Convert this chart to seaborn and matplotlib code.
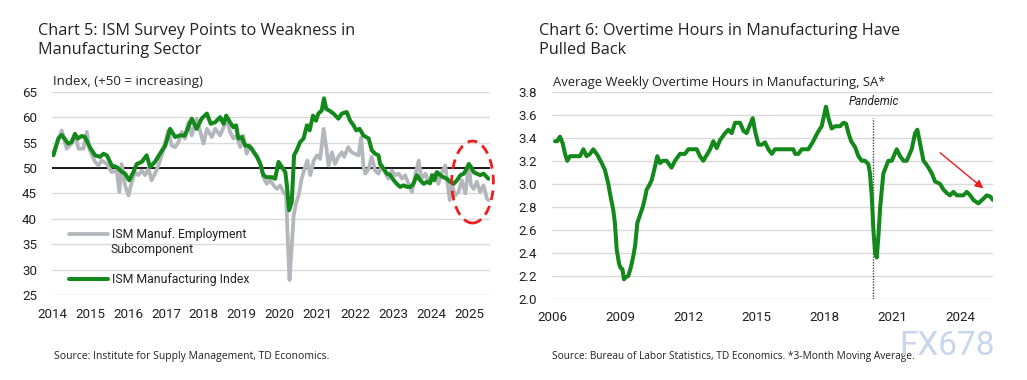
import matplotlib
matplotlib.use("Agg")
import matplotlib.pyplot as plt
import seaborn as sns
from matplotlib.patches import Ellipse

# ---- Chart 5 data (decimal years) ----
ism_x = [2014.03, 2014.16, 2014.25, 2014.42, 2014.51, 2014.60, 2014.67, 2014.78, 2014.86, 2014.99,
         2015.13, 2015.26, 2015.35, 2015.44, 2015.57, 2015.70, 2015.83, 2015.92, 2016.03, 2016.14,
         2016.23, 2016.36, 2016.49, 2016.58, 2016.71, 2016.84, 2016.98, 2017.11, 2017.24, 2017.37,
         2017.50, 2017.68, 2017.81, 2017.94, 2018.08, 2018.18, 2018.30, 2018.43, 2018.52, 2018.59,
         2018.69, 2018.78, 2018.85, 2018.91, 2019.00, 2019.09, 2019.17, 2019.26, 2019.40, 2019.49,
         2019.57, 2019.66, 2019.80, 2019.88, 2019.97, 2020.06, 2020.15, 2020.19, 2020.25, 2020.32,
         2020.38, 2020.45, 2020.54, 2020.63, 2020.72, 2020.79, 2020.88, 2020.96, 2021.02, 2021.11,
         2021.17, 2021.23, 2021.31, 2021.42, 2021.55, 2021.64, 2021.77, 2021.86, 2021.95, 2022.02,
         2022.11, 2022.21, 2022.35, 2022.43, 2022.52, 2022.61, 2022.65, 2022.74, 2022.83, 2022.92,
         2023.01, 2023.09, 2023.18, 2023.27, 2023.36, 2023.45, 2023.53, 2023.62, 2023.71, 2023.80,
         2023.89, 2023.97, 2024.02, 2024.08, 2024.15, 2024.24, 2024.32, 2024.41, 2024.50, 2024.59,
         2024.68, 2024.77, 2024.86, 2024.94, 2024.99, 2025.05, 2025.12, 2025.20, 2025.29, 2025.38,
         2025.47, 2025.51]
ism_pmi = [52.5, 55.8, 56.5, 54.8, 55.1, 56.7, 55.8, 56.3, 56.1, 54.1,
           52.5, 52.2, 52.8, 52.5, 50.5, 50.2, 49.3, 48.9, 47.6, 49.2,
           50.8, 51.2, 52.5, 50.2, 51.2, 52.8, 54.4, 57.7, 56.1, 56.4,
           56.4, 59.7, 57.7, 59.7, 60.7, 58.7, 59.0, 60.0, 58.7, 60.3,
           59.0, 58.0, 58.4, 55.8, 56.1, 54.4, 54.4, 53.8, 52.2, 50.8,
           48.6, 48.2, 48.2, 47.9, 51.2, 50.2, 49.2, 46.6, 41.7, 43.3,
           52.5, 53.5, 55.1, 55.8, 58.4, 57.4, 60.3, 59.3, 60.7, 61.3,
           63.7, 61.6, 61.3, 60.7, 59.7, 60.7, 61.0, 59.3, 58.4, 57.4,
           57.7, 56.4, 55.8, 53.5, 52.8, 52.5, 50.8, 49.9, 48.9, 48.6,
           47.6, 46.9, 46.3, 46.6, 46.3, 46.3, 46.9, 48.6, 47.6, 46.9,
           47.3, 47.0, 48.6, 47.6, 49.2, 48.6, 48.2, 47.9, 47.3, 46.9,
           47.6, 48.6, 48.9, 49.9, 50.8, 50.2, 49.2, 48.9, 48.6, 48.9,
           48.2, 47.9]

emp_x = [2014.03, 2014.12, 2014.25, 2014.38, 2014.51, 2014.60, 2014.69, 2014.82, 2014.91, 2014.99,
         2015.13, 2015.22, 2015.30, 2015.44, 2015.57, 2015.70, 2015.77, 2015.83, 2015.92, 2016.01,
         2016.10, 2016.18, 2016.27, 2016.36, 2016.45, 2016.54, 2016.62, 2016.71, 2016.80, 2016.93,
         2017.06, 2017.15, 2017.24, 2017.33, 2017.42, 2017.50, 2017.59, 2017.68, 2017.81, 2017.99,
         2018.08, 2018.21, 2018.30, 2018.43, 2018.52, 2018.61, 2018.69, 2018.78, 2018.87, 2018.96,
         2019.04, 2019.13, 2019.22, 2019.31, 2019.40, 2019.49, 2019.57, 2019.66, 2019.75, 2019.84,
         2019.93, 2020.01, 2020.10, 2020.17, 2020.22, 2020.26, 2020.31, 2020.37, 2020.44, 2020.50,
         2020.58, 2020.67, 2020.73, 2020.81, 2020.90, 2020.99, 2021.07, 2021.16, 2021.23, 2021.29,
         2021.38, 2021.46, 2021.55, 2021.64, 2021.70, 2021.81, 2021.90, 2021.99, 2022.08, 2022.15,
         2022.21, 2022.26, 2022.35, 2022.43, 2022.52, 2022.61, 2022.70, 2022.78, 2022.87, 2022.96,
         2023.05, 2023.14, 2023.23, 2023.31, 2023.40, 2023.49, 2023.58, 2023.67, 2023.74, 2023.85,
         2023.93, 2024.02, 2024.11, 2024.19, 2024.28, 2024.37, 2024.43, 2024.49, 2024.55, 2024.63,
         2024.72, 2024.81, 2024.90, 2024.99, 2025.05, 2025.12, 2025.20, 2025.29, 2025.38, 2025.47,
         2025.51]
ism_emp = [53.1, 54.8, 57.4, 53.8, 54.8, 56.7, 53.8, 53.8, 57.1, 53.5,
           51.2, 50.5, 51.5, 50.8, 49.2, 49.5, 45.3, 50.8, 46.6, 44.6,
           47.3, 49.2, 48.6, 49.5, 48.6, 49.9, 47.6, 48.9, 50.5, 53.5,
           57.4, 54.4, 54.1, 55.1, 57.1, 55.8, 59.0, 56.4, 59.7, 54.8,
           57.7, 56.1, 57.7, 56.4, 58.0, 59.7, 57.1, 55.8, 56.4, 54.1,
           56.4, 52.8, 54.4, 53.1, 52.5, 50.8, 48.2, 46.9, 47.6, 46.6,
           45.9, 46.6, 45.3, 44.6, 34.8, 28.0, 33.5, 40.7, 43.3, 44.6,
           47.9, 50.2, 51.5, 48.6, 51.5, 52.5, 51.8, 57.7, 54.1, 50.5,
           53.1, 50.8, 52.2, 53.1, 52.2, 54.1, 53.1, 52.8, 52.5, 56.0,
           50.5, 48.9, 49.9, 52.2, 49.5, 48.9, 50.5, 49.2, 47.9, 49.5,
           48.6, 48.9, 47.9, 48.6, 46.9, 45.3, 48.6, 51.5, 47.9, 48.9,
           47.3, 47.9, 48.9, 46.9, 49.2, 50.5, 46.9, 43.7, 46.6, 44.6,
           45.3, 47.6, 45.0, 50.5, 46.6, 45.9, 47.3, 45.3, 46.6, 44.0,
           43.7]

left_years = list(range(2014, 2026))
left_yticks = [25, 30, 35, 40, 45, 50, 55, 60, 65]

# ---- Chart 6 data (3-month moving average, decimal years) ----
ot_x = [2006.12, 2006.22, 2006.34, 2006.46, 2006.56, 2006.66, 2006.78, 2007.22, 2007.37, 2007.51,
        2007.66, 2007.81, 2007.99, 2008.18, 2008.32, 2008.47, 2008.54, 2008.69, 2008.76, 2008.84,
        2008.94, 2009.01, 2009.09, 2009.16, 2009.25, 2009.35, 2009.47, 2009.57, 2009.65, 2009.75,
        2009.87, 2009.99, 2010.09, 2010.16, 2010.28, 2010.38, 2010.53, 2010.63, 2010.75, 2010.87,
        2011.04, 2011.26, 2011.41, 2011.63, 2011.85, 2012.00, 2012.37, 2012.51, 2012.66, 2012.81,
        2012.96, 2013.10, 2013.25, 2013.40, 2013.62, 2013.76, 2013.91, 2014.06, 2014.28, 2014.43,
        2014.57, 2014.69, 2014.84, 2014.94, 2015.09, 2015.24, 2015.38, 2015.53, 2015.68, 2015.82,
        2016.63, 2016.71, 2016.85, 2017.00, 2017.29, 2017.51, 2017.66, 2017.81, 2017.88, 2017.99,
        2018.07, 2018.18, 2018.32, 2018.47, 2018.69, 2018.84, 2018.96, 2019.06, 2019.18, 2019.35,
        2019.50, 2019.65, 2019.79, 2019.94, 2020.01, 2020.09, 2020.16, 2020.24, 2020.31, 2020.38,
        2020.46, 2020.53, 2020.60, 2020.72, 2020.82, 2020.97, 2021.19, 2021.34, 2021.49, 2021.63,
        2021.85, 2022.00, 2022.10, 2022.22, 2022.37, 2022.49, 2022.59, 2022.74, 2022.88, 2023.10,
        2023.25, 2023.40, 2023.54, 2023.69, 2023.84, 2024.13, 2024.28, 2024.43, 2024.57, 2024.79,
        2025.01, 2025.16, 2025.31, 2025.43]
ot_hours = [3.37, 3.37, 3.41, 3.35, 3.26, 3.20, 3.24, 3.24, 3.30, 3.24,
            3.26, 3.30, 3.25, 3.18, 3.12, 3.00, 2.92, 2.77, 2.66, 2.43,
            2.31, 2.27, 2.26, 2.17, 2.19, 2.20, 2.28, 2.37, 2.46, 2.66,
            2.73, 2.80, 2.88, 2.95, 2.99, 3.03, 3.15, 3.24, 3.18, 3.20,
            3.20, 3.14, 3.20, 3.26, 3.26, 3.30, 3.30, 3.24, 3.20, 3.25,
            3.30, 3.37, 3.31, 3.38, 3.44, 3.47, 3.44, 3.53, 3.53, 3.46,
            3.44, 3.50, 3.57, 3.46, 3.34, 3.34, 3.36, 3.30, 3.26, 3.30,
            3.30, 3.26, 3.26, 3.30, 3.30, 3.37, 3.43, 3.48, 3.50, 3.60,
            3.67, 3.57, 3.48, 3.50, 3.50, 3.53, 3.52, 3.44, 3.37, 3.32,
            3.24, 3.20, 3.20, 3.17, 3.09, 2.89, 2.60, 2.40, 2.36, 2.54,
            2.80, 2.95, 3.09, 3.15, 3.20, 3.20, 3.30, 3.24, 3.20, 3.20,
            3.30, 3.44, 3.47, 3.35, 3.20, 3.17, 3.14, 3.09, 3.02, 3.00,
            2.95, 2.92, 2.90, 2.93, 2.90, 2.90, 2.93, 2.90, 2.86, 2.83,
            2.87, 2.90, 2.89, 2.86]

right_years = [2006, 2009, 2012, 2015, 2018, 2021, 2024]
right_yticks = [2.0, 2.2, 2.4, 2.6, 2.8, 3.0, 3.2, 3.4, 3.6, 3.8]
pandemic_x = 2020.16

GREEN = "#12891a"
GRAY = "#b3b6bb"
TXT = "#222222"
HEAD = ["Open Sans", "DejaVu Sans"]

sns.set_theme(style="white")
plt.rcParams["font.family"] = ["Roboto", "DejaVu Sans"]

fig = plt.figure(figsize=(10.27, 3.8), dpi=100)
ax1 = fig.add_axes([0.0509, 0.2229, 0.4262, 0.5358])
ax2 = fig.add_axes([0.5378, 0.2132, 0.4294, 0.5455])

# left chart
sns.lineplot(x=emp_x, y=ism_emp, ax=ax1, color=GRAY, lw=2.7, sort=False,
             estimator=None, label="ISM Manuf. Employment", zorder=3)
sns.lineplot(x=ism_x, y=ism_pmi, ax=ax1, color=GREEN, lw=2.9, sort=False,
             estimator=None, label="ISM Manufacturing Index", zorder=4)
ax1.axhline(50, color="#1a1a1a", lw=1.4, zorder=2.5)
ax1.set_xlim(2014, 2025.55)
ax1.set_ylim(25, 65)
ax1.set_xticks(left_years)
ax1.set_xticklabels([str(y) for y in left_years])
ax1.set_yticks(left_yticks)
ax1.add_patch(Ellipse((2025.09, 47.25), 1.1, 16.1, fill=False, ec="#ee1c1c",
                      lw=2.0, ls=(0, (3.5, 2.2)), zorder=5, clip_on=False))
leg = ax1.legend(loc="upper left", bbox_to_anchor=(0.038, 0.33), frameon=False,
                 fontsize=8.8, handlelength=3.2, handletextpad=0.3, labelspacing=2.62,
                 borderaxespad=0, borderpad=0)
for t in leg.get_texts():
    t.set_color(TXT)
# second line of the grey series label
ax1.text(0.134, 0.226, "Subcomponent", transform=ax1.transAxes, fontsize=8.8,
         color=TXT, va="center", ha="left")

# right chart
sns.lineplot(x=ot_x, y=ot_hours, ax=ax2, color=GREEN, lw=2.9, sort=False,
             estimator=None, zorder=4)
ax2.plot([pandemic_x, pandemic_x], [2.0, 3.57], color="#444444", lw=1.0, ls=(0, (1, 1)), zorder=3)
ax2.text(pandemic_x, 3.66, "Pandemic", style="italic", fontsize=8.4, color=TXT,
         ha="center", va="bottom")
ax2.annotate("", xy=(2025.01, 2.96), xytext=(2023.1, 3.27),
             arrowprops=dict(arrowstyle="-|>", color="#ee1c1c", lw=1.0,
                             mutation_scale=12, shrinkA=0, shrinkB=0), zorder=5)
ax2.set_xlim(2006, 2025.45)
ax2.set_ylim(2.0, 3.8)
ax2.set_xticks(right_years)
ax2.set_xticklabels([str(y) for y in right_years])
ax2.set_yticks(right_yticks)
ax2.set_yticklabels([f"{v:.1f}" for v in right_yticks])

for ax in (ax1, ax2):
    ax.grid(axis="y", color="#dadada", lw=1.0)
    ax.grid(axis="x", visible=False)
    for s in ax.spines.values():
        s.set_visible(False)
    ax.tick_params(axis="both", length=0, labelsize=9.6, colors=TXT)
    ax.tick_params(axis="x", pad=9)
    ax.tick_params(axis="y", pad=11)
    ax.set_xlabel("")
    ax.set_ylabel("")
    ax.set_axisbelow(True)

# titles and notes
fig.text(38 / 1027, 1 - 34.7 / 380, "Chart 5: ISM Survey Points to Weakness in",
         fontsize=11.7, color=TXT, va="baseline", family=HEAD)
fig.text(38 / 1027, 1 - 54.5 / 380, "Manufacturing Sector", fontsize=11.7, color=TXT,
         va="baseline", family=HEAD)
fig.text(539 / 1027, 1 - 34.7 / 380, "Chart 6: Overtime Hours in Manufacturing Have",
         fontsize=11.7, color=TXT, va="baseline", family=HEAD)
fig.text(539 / 1027, 1 - 54.5 / 380, "Pulled Back", fontsize=11.7, color=TXT, va="baseline",
         family=HEAD)
fig.text(53 / 1027, 1 - 85 / 380, "Index, (+50 = increasing)", fontsize=9.5, color=TXT,
         va="baseline", family=HEAD)
fig.text(553 / 1027, 1 - 86 / 380, "Average Weekly Overtime Hours in Manufacturing, SA*",
         fontsize=9.4, color=TXT, va="baseline", family=HEAD)
fig.text(54 / 1027, 1 - 358.5 / 380, "Source: Institute for Supply Management, TD Economics.",
         fontsize=7.5, color=TXT, va="baseline", family=HEAD)
fig.text(552 / 1027, 1 - 358.5 / 380,
         "Source: Bureau of Labor Statistics, TD Economics. *3-Month Moving Average.",
         fontsize=7.3, color=TXT, va="baseline", family=HEAD)
fig.text(899 / 1027, 1 - 355 / 380, "FX678", fontsize=24, color="#c6d6ec", va="baseline")

fig.savefig("out.png", dpi=100, facecolor="white")
